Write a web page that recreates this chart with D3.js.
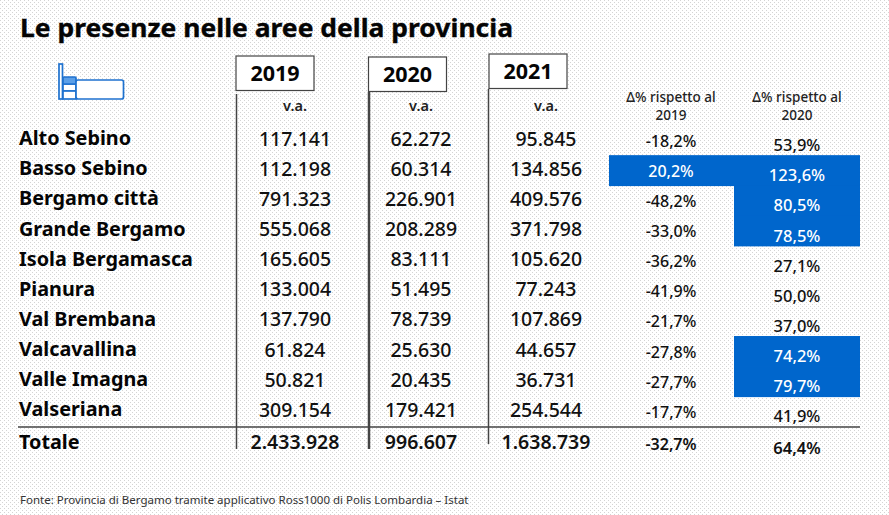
<!DOCTYPE html>
<html>
<head>
<meta charset="utf-8">
<script src="https://cdn.jsdelivr.net/npm/d3@7"></script>
<style>
  html, body { margin: 0; padding: 0; background: #fff; }
  svg { display: block; }
  text { font-family: "Noto Sans", sans-serif; }
</style>
</head>
<body>
<svg id="chart"></svg>
<script>
const areas = ["Alto Sebino", "Basso Sebino", "Bergamo città", "Grande Bergamo", "Isola Bergamasca", "Pianura", "Val Brembana", "Valcavallina", "Valle Imagna", "Valseriana", "Totale"];
const years = ["2019", "2020", "2021"];
const values2019 = ["117.141", "112.198", "791.323", "555.068", "165.605", "133.004", "137.790", "61.824", "50.821", "309.154", "2.433.928"];
const values2020 = ["62.272", "60.314", "226.901", "208.289", "83.111", "51.495", "78.739", "25.630", "20.435", "179.421", "996.607"];
const values2021 = ["95.845", "134.856", "409.576", "371.798", "105.620", "77.243", "107.869", "44.657", "36.731", "254.544", "1.638.739"];
const delta2019 = ["-18,2%", "20,2%", "-48,2%", "-33,0%", "-36,2%", "-41,9%", "-21,7%", "-27,8%", "-27,7%", "-17,7%", "-32,7%"];
const delta2020 = ["53,9%", "123,6%", "80,5%", "78,5%", "27,1%", "50,0%", "37,0%", "74,2%", "79,7%", "41,9%", "64,4%"];
const highlight2019 = ["Basso Sebino"];
const highlight2020 = ["Basso Sebino", "Bergamo città", "Grande Bergamo", "Valcavallina", "Valle Imagna"];

const width = 889, height = 515;
const blue = "#0066cc";

const svg = d3.select("#chart").attr("width", width).attr("height", height);

// faint dot texture of the original screenshot
const pat = svg.append("defs").append("pattern").attr("id", "dots")
  .attr("width", 4).attr("height", 4).attr("patternUnits", "userSpaceOnUse");
pat.append("rect").attr("width", 4).attr("height", 4).attr("fill", "#fff");
pat.append("rect").attr("width", 1).attr("height", 1).attr("fill", "#d4d4d4");
pat.append("rect").attr("x", 2).attr("y", 2).attr("width", 1).attr("height", 1).attr("fill", "#d4d4d4");
svg.append("rect").attr("width", width).attr("height", height).attr("fill", "url(#dots)");

const y = d3.scaleBand().domain(areas).range([123, 454.6]);
const colX = { 2019: 295, 2020: 421, 2021: 546 };

svg.append("text").attr("x", 20).attr("y", 37).attr("font-size", 25.5).attr("font-weight", 700)
  .attr("fill", "#050505").attr("stroke", "#050505").attr("stroke-width", 0.35)
  .attr("textLength", 493).attr("lengthAdjust", "spacingAndGlyphs")
  .text("Le presenze nelle aree della provincia");

// bed icon
const bed = svg.append("g").attr("fill", "#fff").attr("stroke", "#1f72cf").attr("stroke-width", 1.7);
bed.append("rect").attr("x", 59).attr("y", 64).attr("width", 3.5).attr("height", 35);
bed.append("rect").attr("x", 63).attr("y", 84).attr("width", 13).attr("height", 7);
bed.append("rect").attr("x", 63).attr("y", 91).attr("width", 13).attr("height", 8);
bed.append("rect").attr("x", 63).attr("y", 77).attr("width", 13).attr("height", 7).attr("rx", 1).attr("fill", "#5b9fe8");
bed.append("rect").attr("x", 76).attr("y", 80).attr("width", 47.5).attr("height", 19).attr("rx", 2);

// blue highlight cells
const blocks = svg.append("g").attr("fill", blue);
blocks.selectAll(".h19").data(highlight2019).join("rect").attr("class", "h19")
  .attr("x", 609).attr("width", 125).attr("y", d => y(d) + 2).attr("height", y.bandwidth() + 0.8);
blocks.selectAll(".h20").data(highlight2020).join("rect").attr("class", "h20")
  .attr("x", 734).attr("width", 126).attr("y", d => y(d) + 2).attr("height", y.bandwidth() + 0.8);

// year boxes and column rules
const boxes = [
  { year: "2019", x: 236, y: 56, ruleX: 236.5, rule: [94, 449], w: 1.5 },
  { year: "2020", x: 368.5, y: 57, ruleX: 369, rule: [92, 449], w: 2.5 },
  { year: "2021", x: 489, y: 54, ruleX: 488.5, rule: [89, 444], w: 1.5 }
];
boxes.forEach(b => {
  svg.append("rect").attr("x", b.x).attr("y", b.y).attr("width", 78).attr("height", 34.5)
    .attr("fill", "#fff").attr("stroke", "#444").attr("stroke-width", 1.2);
  svg.append("text").attr("x", b.x + 39).attr("y", b.y + 25).attr("text-anchor", "middle")
    .attr("font-size", 21.5).attr("font-weight", 700).attr("fill", "#050505").text(b.year);
  svg.append("line").attr("x1", b.ruleX).attr("x2", b.ruleX).attr("y1", b.rule[0]).attr("y2", b.rule[1])
    .attr("stroke", "#444").attr("stroke-width", b.w);
  svg.append("text").attr("x", colX[b.year]).attr("y", 111).attr("text-anchor", "middle")
    .attr("font-size", 14.5).attr("font-weight", 600).attr("fill", "#222").text("v.a.");
});

// total rule
svg.append("line").attr("x1", 18).attr("x2", 860).attr("y1", 427).attr("y2", 427)
  .attr("stroke", "#444").attr("stroke-width", 1.5);

// delta headers
[[671, "2019"], [797, "2020"]].forEach(([cx, yr]) => {
  const t = svg.append("text").attr("text-anchor", "middle").attr("font-size", 13.5).attr("font-weight", 500).attr("fill", "#222");
  t.append("tspan").attr("x", cx).attr("y", 102).text("Δ% rispetto al");
  t.append("tspan").attr("x", cx).attr("y", 120).text(yr);
});

// row labels
svg.append("g").selectAll("text").data(areas).join("text")
  .attr("x", 19).attr("y", (d, i) => y(d) + y.bandwidth() / 2 + 7 + (i === 10 ? 2 : 0))
  .attr("font-size", 19.8).attr("font-weight", 700).attr("fill", "#050505")
  .text(d => d);

// value columns
function column(vals, x, dy, opts) {
  svg.append("g").selectAll("text").data(vals).join("text")
    .attr("x", x).attr("y", (d, i) => y(areas[i]) + y.bandwidth() / 2 + dy + (i === 10 ? 1.5 : 0))
    .attr("text-anchor", "middle").attr("font-size", opts.size).attr("font-weight", (d, i) => i === 10 ? 600 : 500)
    .attr("fill", (d, i) => opts.hi && opts.hi.includes(areas[i]) ? "#fff" : "#111")
    .text(d => d);
}
column(values2019, colX[2019], 7.5, { size: 19.5 });
column(values2020, colX[2020], 7.5, { size: 19.5 });
column(values2021, colX[2021], 7.5, { size: 19.5 });
column(delta2019, 671, 8.5, { size: 16, hi: highlight2019 });
column(delta2020, 797, 13, { size: 16.5, hi: highlight2020 });

svg.append("text").attr("x", 20).attr("y", 504).attr("font-size", 11.5).attr("fill", "#333")
  .text("Fonte: Provincia di Bergamo tramite applicativo Ross1000 di Polis Lombardia – Istat");
</script>
</body>
</html>
